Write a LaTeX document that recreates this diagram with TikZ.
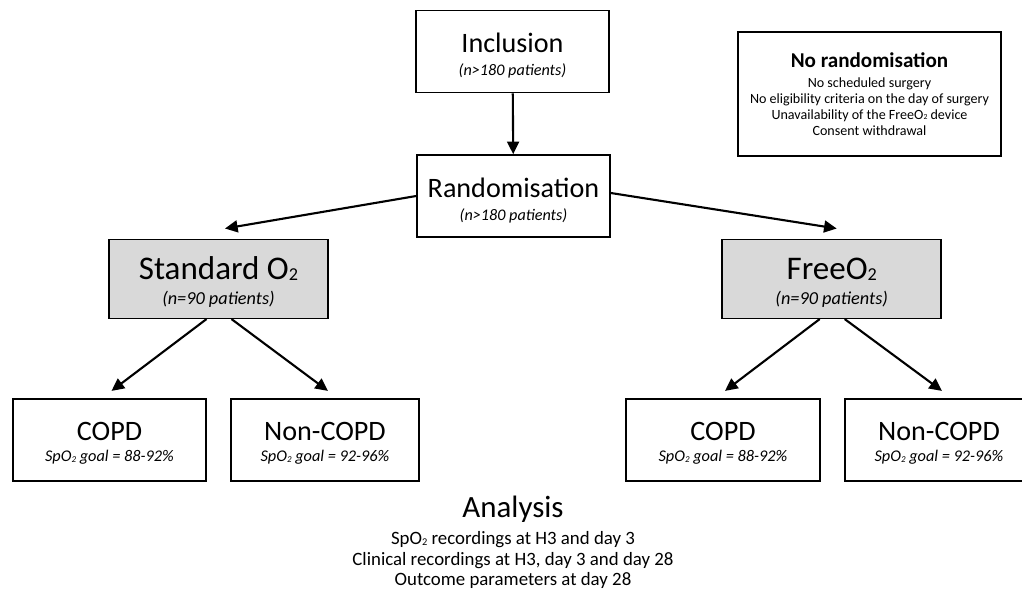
\documentclass[tikz,border=0pt]{standalone}
\usepackage{fontspec}
\setmainfont{Carlito}
\usetikzlibrary{arrows.meta,positioning}
\newcommand{\Otwo}{O\raisebox{-0.04em}{\scalebox{0.55}{2}}}
\newcommand{\note}[2]{{\fontsize{#1}{#1}\itshape\selectfont #2}}
\newcommand{\tallrule}[1]{\rule{0pt}{#1}}

\begin{document}
\begin{tikzpicture}[x=0.025cm, y=-0.025cm,
      flow/.style={line width=1.5pt, -{Triangle[length=9pt,width=8.5pt]}},
      stagebox/.style={draw, line width=1.1pt, align=center, inner sep=0pt,
        minimum width=4.825cm, minimum height=2.05cm,
        font=\fontsize{20}{16.4}\selectfont},
      armbox/.style={stagebox, fill=black!15, minimum width=5.475cm,
        minimum height=1.975cm, font=\fontsize{23.5}{17.8}\selectfont},
      goalbox/.style={stagebox, font=\fontsize{20}{15.4}\selectfont}]
    \useasboundingbox (0,0) rectangle (1022,590);
    \clip (0,0) rectangle (1022,590);
    % top of the flow
    \node[stagebox] at (512.5,51.7) (incl) {\tallrule{19pt}Inclusion\\\note{11.5}{(n>180 patients)}};
    \node[stagebox] at (513.5,196) (rand) {\tallrule{20pt}Randomisation\\\note{11.5}{(n>180 patients)}};
    \node[draw, line width=1.1pt, align=center, inner sep=0pt,
      minimum width=6.575cm, minimum height=3.1cm,
      font=\fontsize{10}{11.4}\selectfont] at (869.5,94) (norand)
      {{\fontsize{15}{15}\bfseries\selectfont No randomisation}\\[2.8pt]
       No scheduled surgery\\
       No eligibility criteria on the day of surgery\\
       Unavailability of the Free\Otwo{} device\\
       Consent withdrawal};
    % the two arms
    \node[armbox] at (218.5,278.8) (std) {\tallrule{20.7pt}Standard \Otwo\\\note{13}{(n=90 patients)}};
    \node[armbox] at (831.7,278.8) (free) {\tallrule{20.7pt}Free\Otwo\\\note{13}{(n=90 patients)}};
    % subgroups
    \node[goalbox] at (109.5,440) (copdA) {\tallrule{17.7pt}COPD\\\note{11.6}{Sp\Otwo{} goal = 88-92\%}};
    \node[goalbox, minimum width=4.7cm] at (325,440) (ncopdA) {\tallrule{17.7pt}Non-COPD\\\note{11.6}{Sp\Otwo{} goal = 92-96\%}};
    \node[goalbox, minimum width=4.85cm] at (723,440) (copdB) {\tallrule{17.7pt}COPD\\\note{11.6}{Sp\Otwo{} goal = 88-92\%}};
    \node[goalbox, minimum width=4.7cm] at (939,440) (ncopdB) {\tallrule{17.7pt}Non-COPD\\\note{11.6}{Sp\Otwo{} goal = 92-96\%}};
    % analysis
    \node[align=center, inner sep=0pt, anchor=north,
      font=\fontsize{13.4}{14.6}\selectfont] at (513,496) (anal)
      {{\fontsize{22}{22}\selectfont Analysis}\\[4.4pt]
       Sp\Otwo{} recordings at H3 and day 3\\
       Clinical recordings at H3, day 3 and day 28\\
       Outcome parameters at day 28};

    \draw[flow] (incl) -- (rand);
    \draw[flow] (rand.west) -- ([shift={(6.5,-10)}]std.north);
    \draw[flow] ([shift={(0,-3)}]rand.east) -- ([shift={(5,-10)}]free.north);
    \draw[flow] ([shift={(-12,0)}]std.south) -- ([shift={(2,-7.3)}]copdA.north);
    \draw[flow] ([shift={(13,0)}]std.south) -- ([shift={(3,-7.3)}]ncopdA.north);
    \draw[flow] ([shift={(-12,0)}]free.south) -- ([shift={(2,-7.3)}]copdB.north);
    \draw[flow] ([shift={(13,0)}]free.south) -- ([shift={(3,-7.3)}]ncopdB.north);
\end{tikzpicture}
\end{document}
